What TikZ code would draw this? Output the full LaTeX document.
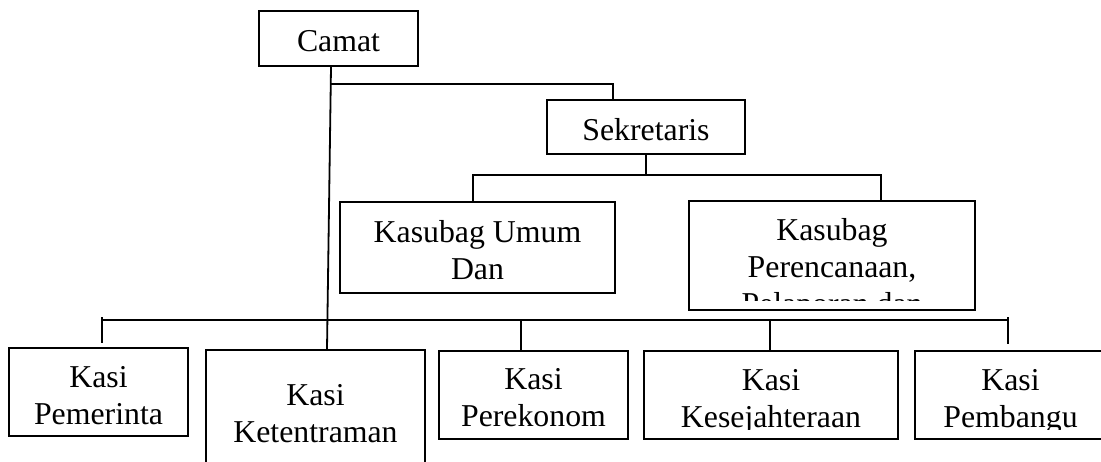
\documentclass[tikz,border=0pt]{standalone}
\usepackage{fontspec}
\setmainfont{Liberation Serif}
\usetikzlibrary{positioning,fit}

\begin{document}
\begin{tikzpicture}[
  x=0.5pt, y=-0.5pt,
  font=\fontsize{15.9}{18.5}\selectfont,
  orgbox/.style={draw=black, line width=0.9pt, inner sep=0pt},
  orgtext/.style={anchor=north, align=center, inner sep=0pt},
  orgline/.style={draw=black, line width=0.9pt}
]
  \useasboundingbox (0,0) rectangle (1101,461);
  % boxes
  \node[orgbox, fit={(259,11) (418,66)}] (camat) {};
  \node[orgbox, fit={(547,100) (745,154)}] (sekretaris) {};
  \node[orgbox, fit={(340,202) (615,293)}] (umum) {};
  \node[orgbox, fit={(689,201) (975,310)}] (perencanaan) {};
  \node[orgbox, fit={(9,348) (188,436)}] (pemerintahan) {};
  \node[orgbox, fit={(206,350) (425,475)}] (ketentraman) {};
  \node[orgbox, fit={(439,351) (628,439)}] (perekonomian) {};
  \node[orgbox, fit={(644,351) (898,439)}] (kesejahteraan) {};
  \node[orgbox, fit={(915,351) (1106,439)}] (pembangunan) {};
  % texts
  \node[orgtext] (camat-t) at (camat.north |- 0,30.5) {Camat};
  \node[orgtext] (sekretaris-t) at (sekretaris.north |- 0,118) {Sekretaris};
  \node[orgtext] (umum-t) at (umum.north |- 0,220) {Kasubag Umum\\Dan};
  \begin{scope}
    \clip (689,201) rectangle (975,300);
    \node[orgtext] (perencanaan-t) at (perencanaan.north |- 0,218) {Kasubag\\Perencanaan,\\Pelaporan dan};
  \end{scope}
  \begin{scope}
    \clip (0,340) rectangle (1101,429);
    \node[orgtext] (pemerintahan-t) at (pemerintahan.north |- 0,366) {Kasi\\Pemerinta};
    \node[orgtext] (perekonomian-t) at (perekonomian.north |- 0,368) {Kasi\\Perekonom};
    \node[orgtext] (kesejahteraan-t) at (kesejahteraan.north |- 0,369) {Kasi\\Kesejahteraan};
    \node[orgtext] (pembangunan-t) at (pembangunan.north |- 0,369) {Kasi\\Pembangu};
  \end{scope}
  \node[orgtext] (ketentraman-t) at (ketentraman.north |- 0,384) {Kasi\\Ketentraman};
  % connectors
  \draw[orgline] ([xshift=-3.75pt]camat.south) -- ([xshift=5.75pt]ketentraman.north);
  \coordinate (sek-join) at (331,84);
  \coordinate (sek-turn) at (613,84);
  \draw[orgline] (sek-join) -- (sek-turn) -- (sek-turn |- sekretaris.north);
  \coordinate (sub-l) at (473,175);
  \coordinate (sub-r) at (881,175);
  \draw[orgline] (sekretaris.south) -- (sekretaris.south |- sub-l);
  \draw[orgline] (umum.north -| sub-l) -- (sub-l) -- (sub-r) -- (sub-r |- perencanaan.north);
  \coordinate (bus-l) at (102,320);
  \coordinate (bus-r) at (1008,320);
  \coordinate (tick-l) at (102,343);
  \coordinate (tick-r) at (1008,344);
  \draw[orgline] (bus-l) -- (bus-r);
  \draw[orgline] ([yshift=1.5pt]bus-l) -- (tick-l);
  \draw[orgline] ([yshift=1.5pt]bus-r) -- (tick-r);
  \draw[orgline] ([xshift=-6.25pt]perekonomian.north) -- ([xshift=-6.25pt]perekonomian.north |- bus-l);
  \draw[orgline] ([xshift=-0.5pt]kesejahteraan.north) -- ([xshift=-0.5pt]kesejahteraan.north |- bus-l);
\end{tikzpicture}
\end{document}
